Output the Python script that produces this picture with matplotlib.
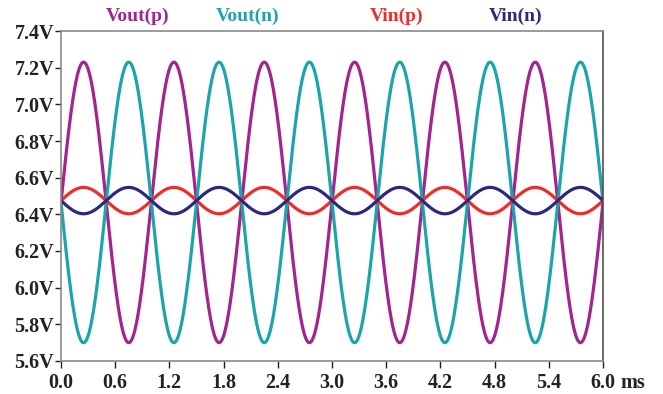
import numpy as np
import matplotlib
matplotlib.use('Agg')
import matplotlib.pyplot as plt

plt.rcParams['font.family'] = ['Liberation Serif', 'DejaVu Serif']
plt.rcParams['font.weight'] = 'bold'

# signal parameters (time in ms, volts)
names = ['Vout(p)', 'Vout(n)', 'Vin(p)', 'Vin(n)']
colors = ['#A3238F', '#1BA5AA', '#F22A2A', '#2C2882']
offsets = [6.465, 6.465, 6.475, 6.475]
amplitudes = [0.765, -0.765, 0.072, -0.072]
freq_khz = 1.0
t_end = 6.0

x_ticks = [0.0, 0.6, 1.2, 1.8, 2.4, 3.0, 3.6, 4.2, 4.8, 5.4, 6.0]
y_ticks = [5.6, 5.8, 6.0, 6.2, 6.4, 6.6, 6.8, 7.0, 7.2, 7.4]
label_x = [138, 248, 397, 516]  # pixel centres of the labels at the top

fig = plt.figure(figsize=(6.63, 3.94), dpi=100)
ax = fig.add_axes([61 / 663, 1 - 361 / 394, 542 / 663, 330 / 394])

t = np.linspace(0, t_end, 2401)
for name, c, off, amp in zip(names, colors, offsets, amplitudes):
    ax.plot(t, off + amp * np.sin(2 * np.pi * freq_khz * t), color=c, lw=2.3)

ax.set_xlim(0, t_end)
ax.set_ylim(5.6, 7.4)
ax.set_xticks(x_ticks)
ax.set_xticklabels([f'{v:.1f}' for v in x_ticks])
ax.set_yticks(y_ticks)
ax.set_yticklabels([f'{v:.1f}V' for v in y_ticks])
ax.tick_params(axis='both', labelsize=14.5, colors='#222222', width=1)
ax.tick_params(axis='y', length=4, pad=1)
ax.tick_params(axis='x', length=5, pad=4)
for lab in ax.get_xticklabels() + ax.get_yticklabels():
    lab.set_fontweight('bold')
    lab.set_color('#222222')

for s in ['left', 'bottom', 'top']:
    ax.spines[s].set_color('#8a8a8a')
    ax.spines[s].set_linewidth(1.2)
ax.spines['right'].set_color('#505050')
ax.spines['right'].set_linewidth(1.2)

# unit after the last x tick label
fig.text(620 / 663, 1 - 383 / 394, 'ms', ha='left', va='center',
         fontsize=14.5, fontweight='bold', color='#222222')

for name, c, px in zip(names, colors, label_x):
    fig.text(px / 663, 1 - 16 / 394, name, color=c, ha='center', va='center',
             fontsize=14, fontweight='bold')

fig.savefig('out.png', dpi=100)
